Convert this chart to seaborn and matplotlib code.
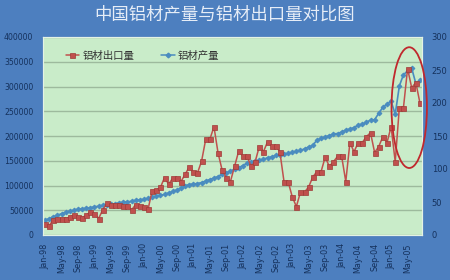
import numpy as np
import pandas as pd
import matplotlib
matplotlib.use("Agg")
import matplotlib.pyplot as plt
import seaborn as sns
from matplotlib.patches import Ellipse
from matplotlib.lines import Line2D

# ---------------- data ----------------
title = "中国铝材产量与铝材出口量对比图"
export_label = "铝材出口量"
production_label = "铝材产量"

months = pd.date_range("1998-01-01", periods=92, freq="MS")
month_labels = [d.strftime("%b-%y") for d in months]

# aluminium product exports (right axis)
export = [16, 14, 23, 24, 25, 25, 27, 30, 27, 26,
          30, 35, 32, 25, 38, 48, 45, 45, 45, 44,
          44, 38, 46, 44, 43, 39, 67, 68, 72, 87,
          77, 86, 86, 81, 92, 103, 95, 94, 112, 145,
          145, 164, 124, 98, 87, 81, 104, 127, 120, 120,
          104, 111, 134, 126, 141, 135, 135, 126, 81, 81,
          58, 43, 65, 65, 73, 88, 96, 96, 118, 104,
          111, 119, 119, 81, 140, 126, 140, 140, 149, 155,
          125, 134, 149, 140, 164, 111, 193, 193, 252, 223,
          231, 200]

# aluminium product output (left axis)
production = [30000, 33000, 37000, 40000, 43000, 46000, 48000, 50000, 52000, 53000,
              54000, 55000, 57000, 58000, 60000, 61000, 62000, 63000, 65000, 66000,
              67000, 68000, 70000, 71000, 72000, 74000, 77000, 78000, 80000, 82000,
              85000, 88000, 91000, 95000, 99000, 102000, 103000, 104000, 106000, 109000,
              112000, 115000, 118000, 123000, 126000, 129000, 133000, 136000, 140000, 145000,
              147000, 149000, 151000, 153000, 156000, 158000, 161000, 162000, 163000, 165000,
              167000, 169000, 171000, 174000, 178000, 181000, 192000, 195000, 198000, 201000,
              204000, 205000, 208000, 212000, 214000, 217000, 222000, 224000, 228000, 232000,
              233000, 246000, 258000, 264000, 270000, 244000, 301000, 324000, 331000, 337000,
              306000, 313000]

left_ticks = [0, 50000, 100000, 150000, 200000, 250000, 300000, 350000, 400000]
right_ticks = [0, 50, 100, 150, 200, 250, 300]
tick_every = 4

# ---------------- style ----------------
sns.set_style("white")
plt.rcParams["font.family"] = ["Noto Sans CJK SC", "DejaVu Sans"]

bg_blue = "#4d7fbf"
plot_green = "#c9ecc9"
grid_col = "#9dba9d"
red = "#c0504d"
red_edge = "#9e3b38"
blue = "#4a8cbf"
tick_col = "#15315c"

df = pd.DataFrame({
    "idx": np.arange(len(months)),
    "export": export,
    "production": production,
})

fig = plt.figure(figsize=(4.5, 2.8), dpi=100, facecolor=bg_blue)
ax = fig.add_axes([43 / 450, 1 - 235 / 280, 379 / 450, 198 / 280])
ax.set_facecolor(plot_green)
ax2 = ax.twinx()

sns.lineplot(data=df, x="idx", y="production", ax=ax, color=blue,
             marker="D", markersize=2.4, markeredgecolor=blue, linewidth=1.2)
sns.lineplot(data=df, x="idx", y="export", ax=ax2, color=red,
             marker="s", markersize=3.6, markeredgecolor=red_edge,
             markeredgewidth=0.5, linewidth=1.1)

ax.set_xlim(-0.5, len(months) - 0.5)
ax.set_ylim(0, 400000)
ax2.set_ylim(0, 300)
ax.set_yticks(left_ticks)
ax.set_yticklabels([str(v) for v in left_ticks])
ax2.set_yticks(right_ticks)
ax2.set_yticklabels([str(v) for v in right_ticks])
xt = list(range(0, len(months), tick_every))
ax.set_xticks(xt)
ax.set_xticklabels([month_labels[i] for i in xt], rotation=90)

ax.yaxis.grid(True, color=grid_col, linewidth=1.0)
ax.xaxis.grid(False)
ax.set_axisbelow(True)
for a in (ax, ax2):
    a.set_xlabel("")
    a.set_ylabel("")
    for s in a.spines.values():
        s.set_color("#e4f2e4")
        s.set_linewidth(0.8)

ax.tick_params(axis="y", length=0, pad=7, labelsize=5.6, labelcolor=tick_col)
ax.tick_params(axis="x", length=0, pad=6, labelsize=5.8, labelcolor=tick_col)
ax2.tick_params(axis="y", length=0, pad=7, labelsize=6.0, labelcolor=tick_col)
for lab in ax.get_yticklabels() + ax2.get_yticklabels() + ax.get_xticklabels():
    lab.set_fontfamily(["DejaVu Sans"])

# legend
handles = [
    Line2D([], [], color=red, marker="s", markersize=3.6,
           markeredgecolor=red_edge, markeredgewidth=0.5, linewidth=1.1),
    Line2D([], [], color=blue, marker="D", markersize=2.4, linewidth=1.1),
]
leg = ax2.legend(handles, [export_label, production_label], ncol=2,
                 loc="center left", bbox_to_anchor=(0.035, 0.905),
                 frameon=False, fontsize=7.5, handlelength=1.3,
                 handletextpad=0.3, columnspacing=2.6)
for t in leg.get_texts():
    t.set_color("#333333")

# highlight ellipse
ax2.add_patch(Ellipse((88.4, 193), width=8.6, height=183, edgecolor="#c0282d",
                      facecolor="none", linewidth=1.3, clip_on=False, zorder=5))

fig.text(0.5, 1 - 15 / 280, title, ha="center", va="center",
         fontsize=12.5, color="#e6edf7")

fig.savefig("out.png", dpi=100, facecolor=bg_blue)
